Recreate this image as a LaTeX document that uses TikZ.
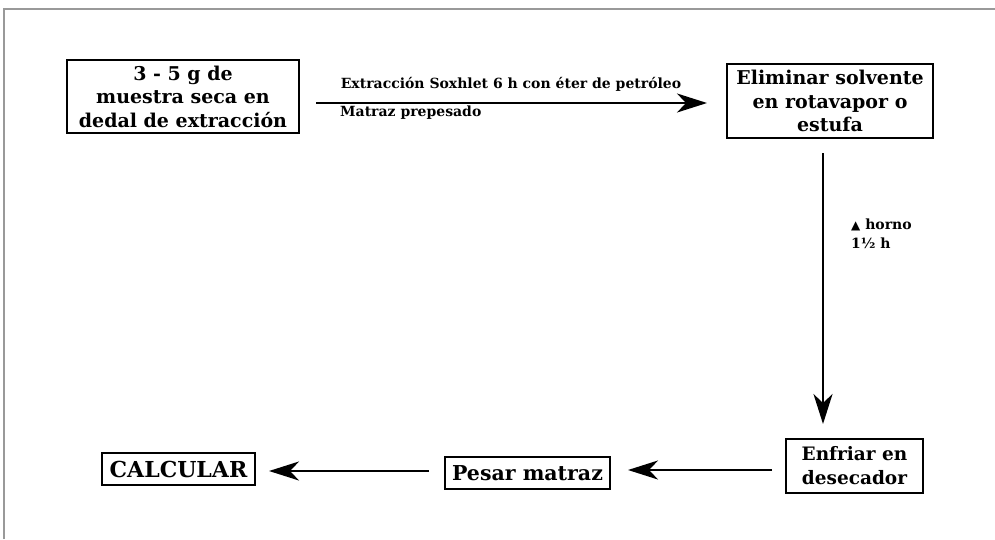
\documentclass[tikz,border=0pt]{standalone}
\usepackage{fontspec}
\setmainfont{DejaVu Serif}
\newfontfamily\symfont{DejaVu Sans}
\usetikzlibrary{arrows.meta}
\begin{document}
\begin{tikzpicture}[x=1pt,y=-1pt,
  stepbox/.style={draw,line width=2pt,inner sep=2pt,align=center,
    font=\fontsize{19}{23.5}\selectfont\bfseries},
  flow/.style={line width=2.4pt,-{Stealth[length=30pt,width=19pt,inset=9pt]}},
  note/.style={font=\fontsize{14}{19}\selectfont\bfseries,inner sep=0pt}]
\useasboundingbox (0,0) rectangle (995,539);
% page frame (top and left edges)
\draw[gray!80,line width=2pt] (3.5,539) -- (3.5,8.5) -- (995,8.5);

% process boxes
\node[stepbox,minimum width=232pt,minimum height=73pt] (muestra) at (183,96.5)
  {3 - 5 g de\\muestra seca en\\dedal de extracción};
\node[stepbox,minimum width=206pt,minimum height=74pt] (eliminar) at (830,101)
  {Eliminar solvente\\en rotavapor o\\estufa};
\node[stepbox,minimum width=137pt,minimum height=54pt,
  font=\fontsize{18.5}{24}\selectfont\bfseries] (enfriar) at (854.5,466)
  {Enfriar en\\desecador};
\node[stepbox,minimum width=165pt,minimum height=32pt,
  font=\fontsize{20.5}{24}\selectfont\bfseries] (pesar) at (527.5,473)
  {Pesar matraz};
\node[stepbox,minimum width=153pt,minimum height=32pt,
  font=\fontsize{22}{24}\selectfont\bfseries] (calcular) at (178.5,469)
  {CALCULAR};

% connectors
\draw[flow,shorten <=16pt,shorten >=19pt] (muestra.east |- 0,103) -- (eliminar.west |- 0,103);
\draw[flow,shorten <=14pt,shorten >=14pt] (eliminar.south -| 823,0) -- (enfriar.north -| 823,0);
\draw[flow,shorten <=13pt,shorten >=17pt] (enfriar.west |- 0,470) -- (pesar.east |- 0,470);
\draw[flow,shorten <=15pt,shorten >=13pt] (pesar.west |- 0,471) -- (calcular.east |- 0,471);

% connector labels
\node[note] (soxhlet) at (511,84) {Extracción Soxhlet 6 h con éter de petróleo};
\node[note,anchor=west] (matraz) at (340,113) {Matraz prepesado};
\node[note,anchor=north west,align=left] (horno) at (851,219)
  {{\symfont\fontsize{12}{12}\selectfont ▲} horno\\1½ h};
\end{tikzpicture}
\end{document}
